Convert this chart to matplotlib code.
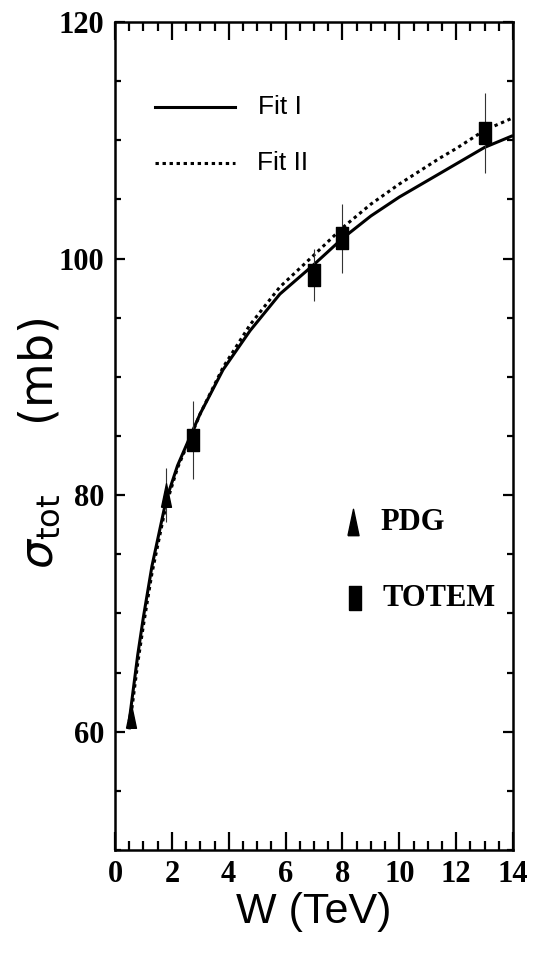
import matplotlib
matplotlib.use("Agg")
import matplotlib.pyplot as plt
from matplotlib import font_manager

# data
pdg_w = [0.546, 1.8]
pdg_sig = [61.3, 80.0]
pdg_err = [0.9, 2.3]

totem_w = [2.76, 7.0, 8.0, 13.0]
totem_sig = [84.7, 98.6, 101.7, 110.6]
totem_err = [3.3, 2.2, 2.9, 3.4]

fit1_w = [0.5, 0.8, 1.0, 1.3, 1.8, 2.2, 2.76, 3.0, 3.8, 4.75, 5.8, 7.0, 8.0, 9.0, 10.0, 11.43, 12.0, 13.0, 14.0]
fit1_sig = [60.9, 66.5, 69.7, 74.0, 79.6, 82.5, 85.6, 86.9, 90.6, 93.9, 97.0, 99.5, 101.7, 103.6, 105.2, 107.2, 108.0, 109.4, 110.4]

fit2_w = [0.5, 0.8, 1.0, 1.3, 1.8, 2.2, 2.76, 3.0, 3.8, 4.75, 5.8, 7.0, 8.0, 9.0, 10.0, 11.43, 12.0, 13.0, 14.0]
fit2_sig = [60.2, 65.8, 69.0, 73.4, 79.2, 82.3, 85.5, 86.9, 90.8, 94.4, 97.6, 100.3, 102.6, 104.6, 106.3, 108.5, 109.3, 110.85, 111.9]

names = {f.name for f in font_manager.fontManager.ttflist}
narrow = 'Liberation Sans Narrow' if 'Liberation Sans Narrow' in names else 'Liberation Sans'
serif = 'Liberation Serif'

tri = [(-0.42, -1), (0.42, -1), (0, 1), (-0.42, -1)]
rect = [(-0.5, -1), (0.5, -1), (0.5, 1), (-0.5, 1), (-0.5, -1)]

fig = plt.figure(figsize=(5.34, 9.72), dpi=100)
ax = fig.add_axes([115/534, 1-850/972, 398/534, 828/972])

ax.plot(fit1_w, fit1_sig, color='black', lw=2.2, solid_capstyle='butt', zorder=2)
ax.plot(fit2_w, fit2_sig, color='black', lw=2.2, dashes=(1.1, 1.2), zorder=2)

ax.errorbar(pdg_w, pdg_sig, yerr=pdg_err, fmt='none', ecolor='#333333', elinewidth=0.8, zorder=3)
ax.errorbar(totem_w, totem_sig, yerr=totem_err, fmt='none', ecolor='#333333', elinewidth=0.8, zorder=3)
ax.plot(pdg_w, pdg_sig, ls='none', marker=tri, ms=17, color='black', zorder=4)
ax.plot(totem_w, totem_sig, ls='none', marker=rect, ms=16, color='black', zorder=4)

ax.set_xlim(0, 14)
ax.set_ylim(50, 120)
ax.set_xticks(range(0, 15, 2))
ax.set_xticks([i * 0.5 for i in range(29)], minor=True)
ax.set_yticks([60, 80, 100, 120])
ax.set_yticks(range(50, 121, 5), minor=True)

ax.tick_params(axis='both', which='both', direction='in', top=True, right=True, width=1.6, color='black')
ax.tick_params(axis='x', which='major', length=13)
ax.tick_params(axis='x', which='minor', length=6.5)
ax.tick_params(axis='y', which='major', length=7)
ax.tick_params(axis='y', which='minor', length=4)
ax.tick_params(axis='x', pad=7)
ax.tick_params(axis='y', pad=8)
for s in ax.spines.values():
    s.set_linewidth(1.8)

for lab in ax.get_xticklabels() + ax.get_yticklabels():
    lab.set_fontfamily(serif)
    lab.set_fontweight('bold')
    lab.set_fontsize(22)

ax.set_xlabel('W (TeV)', fontfamily=narrow, fontsize=31, labelpad=2)
fig.text(40/534, 1-443/972, r'$\sigma_{\rm tot}$' + '\u2003\u2002(mb)', rotation=90,
         fontsize=33, ha='center', va='center', fontfamily='DejaVu Sans')

# fit legend
ax.plot([0.1005, 0.302], [0.897, 0.897], transform=ax.transAxes, color='black', lw=2.2)
ax.plot([0.1005, 0.302], [0.830, 0.830], transform=ax.transAxes, color='black', lw=2.2, dashes=(1.1, 1.2))
ax.text(0.359, 0.897, 'Fit I', transform=ax.transAxes, fontfamily=narrow, fontsize=19, va='center')
ax.text(0.357, 0.830, 'Fit II', transform=ax.transAxes, fontfamily=narrow, fontsize=19, va='center')

# data legend
ax.plot([0.598], [0.396], transform=ax.transAxes, marker=tri, ms=19, color='black', ls='none')
ax.plot([0.603], [0.304], transform=ax.transAxes, marker=rect, ms=17, color='black', ls='none')
ax.text(0.668, 0.396, 'PDG', transform=ax.transAxes, fontfamily=serif, fontweight='bold', fontsize=22, va='center')
ax.text(0.672, 0.304, 'TOTEM', transform=ax.transAxes, fontfamily=serif, fontweight='bold', fontsize=22, va='center')

fig.savefig('out.png', dpi=100)
